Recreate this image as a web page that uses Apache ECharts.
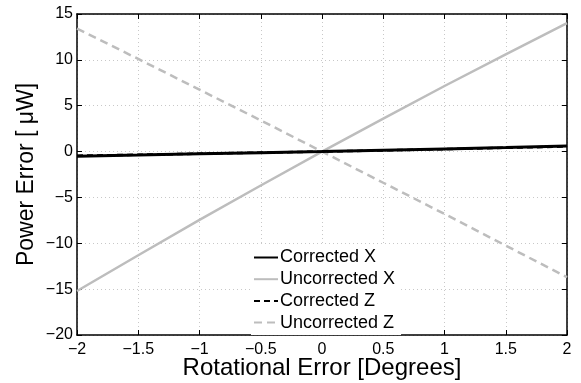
<!DOCTYPE html>
<html>
<head>
<meta charset="utf-8">
<script src="https://cdn.jsdelivr.net/npm/echarts@6/dist/echarts.min.js"></script>
<style>
  html, body { margin: 0; padding: 0; background: #fff; }
  #chart { width: 581px; height: 383px; }
</style>
</head>
<body>
<div id="chart"></div>
<script>
// rotational error in degrees
const rotation = [-2, -1.5, -1, -0.5, 0, 0.5, 1, 1.5, 2];

// power error in uW
const correctedX = [-0.5, -0.38, -0.25, -0.12, 0, 0.14, 0.29, 0.44, 0.6];
const uncorrectedX = [-15.2, -11.3, -7.45, -3.7, 0, 3.6, 7.15, 10.6, 14.0];
const correctedZ = [-0.45, -0.35, -0.23, -0.11, 0, 0.13, 0.27, 0.41, 0.55];
const uncorrectedZ = [13.4, 10.1, 6.75, 3.4, 0, -3.4, -6.8, -10.25, -13.7];

const xTicks = { min: -2, max: 2, interval: 0.5 };
const yTicks = { min: -20, max: 15, interval: 5 };

const FONT = 'Liberation Sans';
const GREY = '#bdbdbd';

const fmt = (v) => String(v).replace('-', '\u2212');

const pairs = (ys) => rotation.map((x, i) => [x, ys[i]]);

const chart = echarts.init(document.getElementById('chart'));

const tick = { show: true, inside: true, length: 5, lineStyle: { color: '#000', width: 1 } };
const line = { show: true, onZero: false, lineStyle: { color: '#000', width: 1.5 } };

const option = {
  animation: false,
  backgroundColor: '#fff',
  grid: { left: 77, right: 14, top: 14, bottom: 48, containLabel: false, outerBoundsMode: 'none' },
  legend: {
    orient: 'vertical',
    left: 251,
    top: 245,
    padding: [2, 6, 2, 2],
    backgroundColor: '#fff',
    itemWidth: 24,
    itemHeight: 21,
    itemGap: 0.7,
    itemStyle: { opacity: 0 },
    textStyle: { fontFamily: FONT, fontSize: 18, lineHeight: 21, color: '#000', padding: [0, 0, 0, -3] },
    data: ['Corrected X', 'Uncorrected X', 'Corrected Z', 'Uncorrected Z']
  },
  xAxis: [
    {
      type: 'value',
      min: xTicks.min, max: xTicks.max, interval: xTicks.interval,
      name: 'Rotational Error [Degrees]',
      nameLocation: 'middle',
      nameGap: 21,
      nameMoveOverlap: false,
      nameTextStyle: { fontFamily: FONT, fontSize: 24, color: '#000' },
      axisLine: line,
      axisTick: tick,
      axisLabel: { fontFamily: FONT, fontSize: 16, color: '#000', margin: 7, formatter: fmt },
      splitLine: { show: true, lineStyle: { color: '#c8c8c8', type: [1, 3], width: 1 } }
    },
    {
      type: 'value', position: 'top',
      min: xTicks.min, max: xTicks.max, interval: xTicks.interval,
      axisLine: line, axisTick: tick,
      axisLabel: { show: false }, splitLine: { show: false }
    }
  ],
  yAxis: [
    {
      type: 'value',
      min: yTicks.min, max: yTicks.max, interval: yTicks.interval,
      name: 'Power Error [ \u03bcW]',
      nameLocation: 'middle',
      nameGap: 39,
      nameMoveOverlap: false,
      nameTextStyle: { fontFamily: FONT, fontSize: 23, color: '#000' },
      axisLine: line,
      axisTick: tick,
      axisLabel: { fontFamily: FONT, fontSize: 16, color: '#000', margin: 4, formatter: fmt },
      splitLine: { show: true, lineStyle: { color: '#c8c8c8', type: [1, 3], width: 1 } }
    },
    {
      type: 'value', position: 'right',
      min: yTicks.min, max: yTicks.max, interval: yTicks.interval,
      axisLine: line, axisTick: tick,
      axisLabel: { show: false }, splitLine: { show: false }
    }
  ],
  series: [
    {
      name: 'Corrected X', type: 'line', data: pairs(correctedX),
      showSymbol: false, symbol: 'none', z: 3,
      lineStyle: { color: '#000', width: 3 }, itemStyle: { color: '#000' }
    },
    {
      name: 'Uncorrected X', type: 'line', data: pairs(uncorrectedX),
      showSymbol: false, symbol: 'none', z: 2,
      lineStyle: { color: GREY, width: 2.5 }, itemStyle: { color: GREY }
    },
    {
      name: 'Corrected Z', type: 'line', data: pairs(correctedZ),
      showSymbol: false, symbol: 'none', z: 4,
      lineStyle: { color: '#000', width: 2.5, type: [6, 4] }, itemStyle: { color: '#000' }
    },
    {
      name: 'Uncorrected Z', type: 'line', data: pairs(uncorrectedZ),
      showSymbol: false, symbol: 'none', z: 2,
      lineStyle: { color: GREY, width: 2.5, type: [8, 5] }, itemStyle: { color: GREY }
    }
  ]
};

chart.setOption(option);
</script>
</body>
</html>
